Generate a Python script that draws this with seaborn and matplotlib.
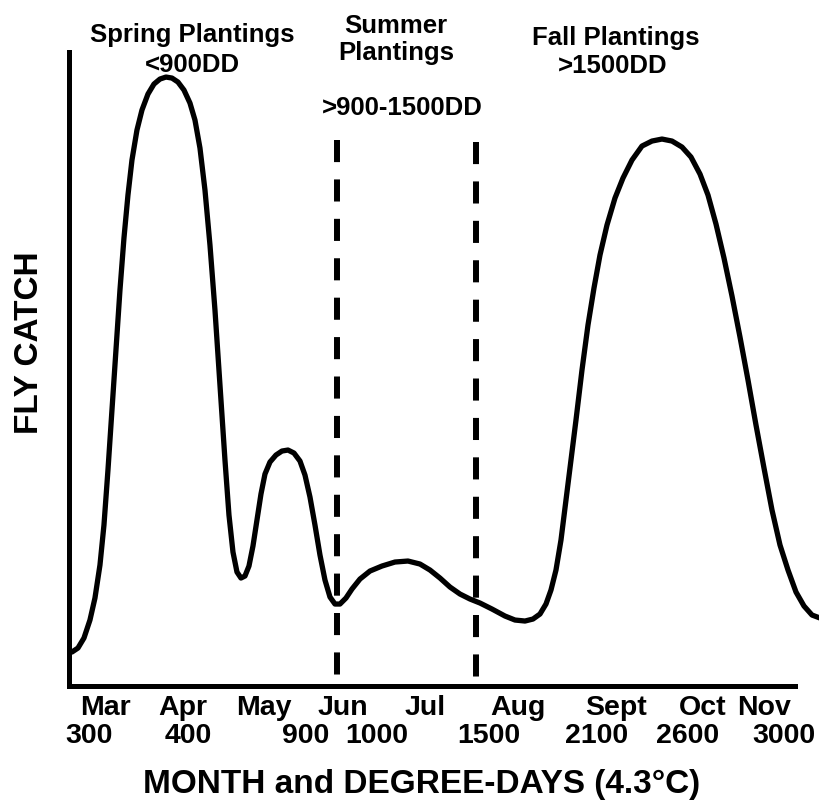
import matplotlib
matplotlib.use('Agg')
import matplotlib.pyplot as plt
import seaborn as sns

# relative season position (axis runs 0-726) and relative fly catch (axis runs 0-632)
season_pos = [3, 9, 15, 21, 26, 31, 35, 39, 43, 47, 51, 55, 59, 63, 68, 73, 79, 85, 91, 97,
              103, 109, 115, 121, 126, 131, 136, 141, 146, 151, 156, 160, 164, 168, 172,
              176, 180, 184, 188, 192, 196, 201, 207, 213, 219, 225, 231, 236, 241, 246,
              251, 256, 261, 266, 271, 277, 283, 291, 301, 313, 326, 339, 351, 361, 371,
              381, 391, 401, 411, 423, 436, 446, 456, 464, 471, 477, 482, 487, 492, 497,
              502, 507, 513, 519, 525, 531, 538, 546, 554, 563, 573, 583, 593, 603, 613,
              622, 631, 639, 647, 655, 663, 671, 679, 687, 695, 703, 711, 719, 727, 735,
              743, 751]
fly_catch = [32, 36, 46, 64, 86, 119, 159, 214, 274, 334, 394, 446, 489, 524, 554, 574, 590,
             600, 605, 607, 606, 602, 594, 581, 564, 536, 494, 439, 374, 299, 224, 169,
             132, 112, 106, 108, 118, 138, 164, 190, 210, 222, 229, 233, 234, 231, 223,
             209, 187, 159, 129, 104, 87, 80, 80, 86, 95, 105, 113, 118, 122, 123, 120,
             114, 106, 97, 90, 85, 81, 75, 68, 64, 63, 65, 70, 80, 94, 114, 144, 184,
             224, 264, 314, 359, 396, 429, 459, 486, 506, 524, 538, 543, 545, 543, 537,
             527, 510, 489, 460, 426, 388, 347, 304, 259, 216, 174, 139, 114, 92, 78,
             69, 66]

# planting-period boundaries (900 DD and 1500 DD)
boundary_pos = [268, 407]
boundary_top = [544, 542]

months = ['Mar', 'Apr', 'May', 'Jun', 'Jul', 'Aug', 'Sept', 'Oct', 'Nov']
month_pos = [36, 114, 195, 274, 356, 449, 547, 634, 695]
degree_days = ['300', '400', '900', '1000', '1500', '2100', '2600', '3000']
dd_pos = [20, 119, 237, 308, 420, 528, 619, 715]

period_labels = [('Spring Plantings', 123, 1.016), ('<900DD', 123, 0.968),
                 ('Summer', 327, 1.030), ('Plantings', 327, 0.987),
                 ('>900-1500DD', 333, 0.901),
                 ('Fall Plantings', 547, 1.011), ('>1500DD', 544, 0.967)]

sns.set_style('white')
plt.rcParams['font.family'] = ['Liberation Sans', 'DejaVu Sans']
plt.rcParams['font.weight'] = 'bold'
plt.rcParams['text.color'] = 'black'
plt.rcParams['axes.labelcolor'] = 'black'

fig = plt.figure(figsize=(8.2, 8.02), dpi=100)
ax = fig.add_axes([0.0841, 0.1446, 0.9159, 0.7905])

sns.lineplot(x=season_pos, y=fly_catch, ax=ax, color='black', linewidth=3.8,
             sort=False, estimator=None)
curve = ax.lines[-1]
curve.set_solid_capstyle('round')
curve.set_solid_joinstyle('round')
curve.set_clip_on(False)

for x, top in zip(boundary_pos, boundary_top):
    ax.plot([x, x], [top, 4], color='black', linewidth=4.3,
            linestyle=(0, (3.7, 2.9)), dash_capstyle='butt')

ax.set_xlim(0, 751)
ax.set_ylim(-2, 632)
ax.set_xticks([])
ax.set_yticks([])

for side in ['top', 'right']:
    ax.spines[side].set_visible(False)
for side in ['left', 'bottom']:
    ax.spines[side].set_linewidth(3.6)
    ax.spines[side].set_color('black')
    ax.spines[side].set_capstyle('projecting')
ax.spines['bottom'].set_bounds(0, 726)

tr = ax.get_xaxis_transform()
for lab, x in zip(months, month_pos):
    ax.text(x, -0.0457, lab, transform=tr, ha='center', va='baseline',
            fontsize=20.5, fontweight='bold')
for lab, x in zip(degree_days, dd_pos):
    ax.text(x, -0.0899, lab, transform=tr, ha='center', va='baseline',
            fontsize=20.5, fontweight='bold')

for lab, x, y in period_labels:
    ax.text(x, y, lab, transform=tr, ha='center', va='baseline',
            fontsize=18.5, fontweight='bold', clip_on=False)

ax.set_xlabel('MONTH and DEGREE-DAYS (4.3°C)', fontsize=24, fontweight='bold')
ax.xaxis.set_label_coords(0.470, -0.169)
ax.xaxis.label.set_va('baseline')
ax.set_ylabel('FLY CATCH', fontsize=24, fontweight='bold')
ax.yaxis.set_label_coords(-0.053, 0.541)
ax.yaxis.label.set_va('center')

fig.savefig('out.png', dpi=100)
